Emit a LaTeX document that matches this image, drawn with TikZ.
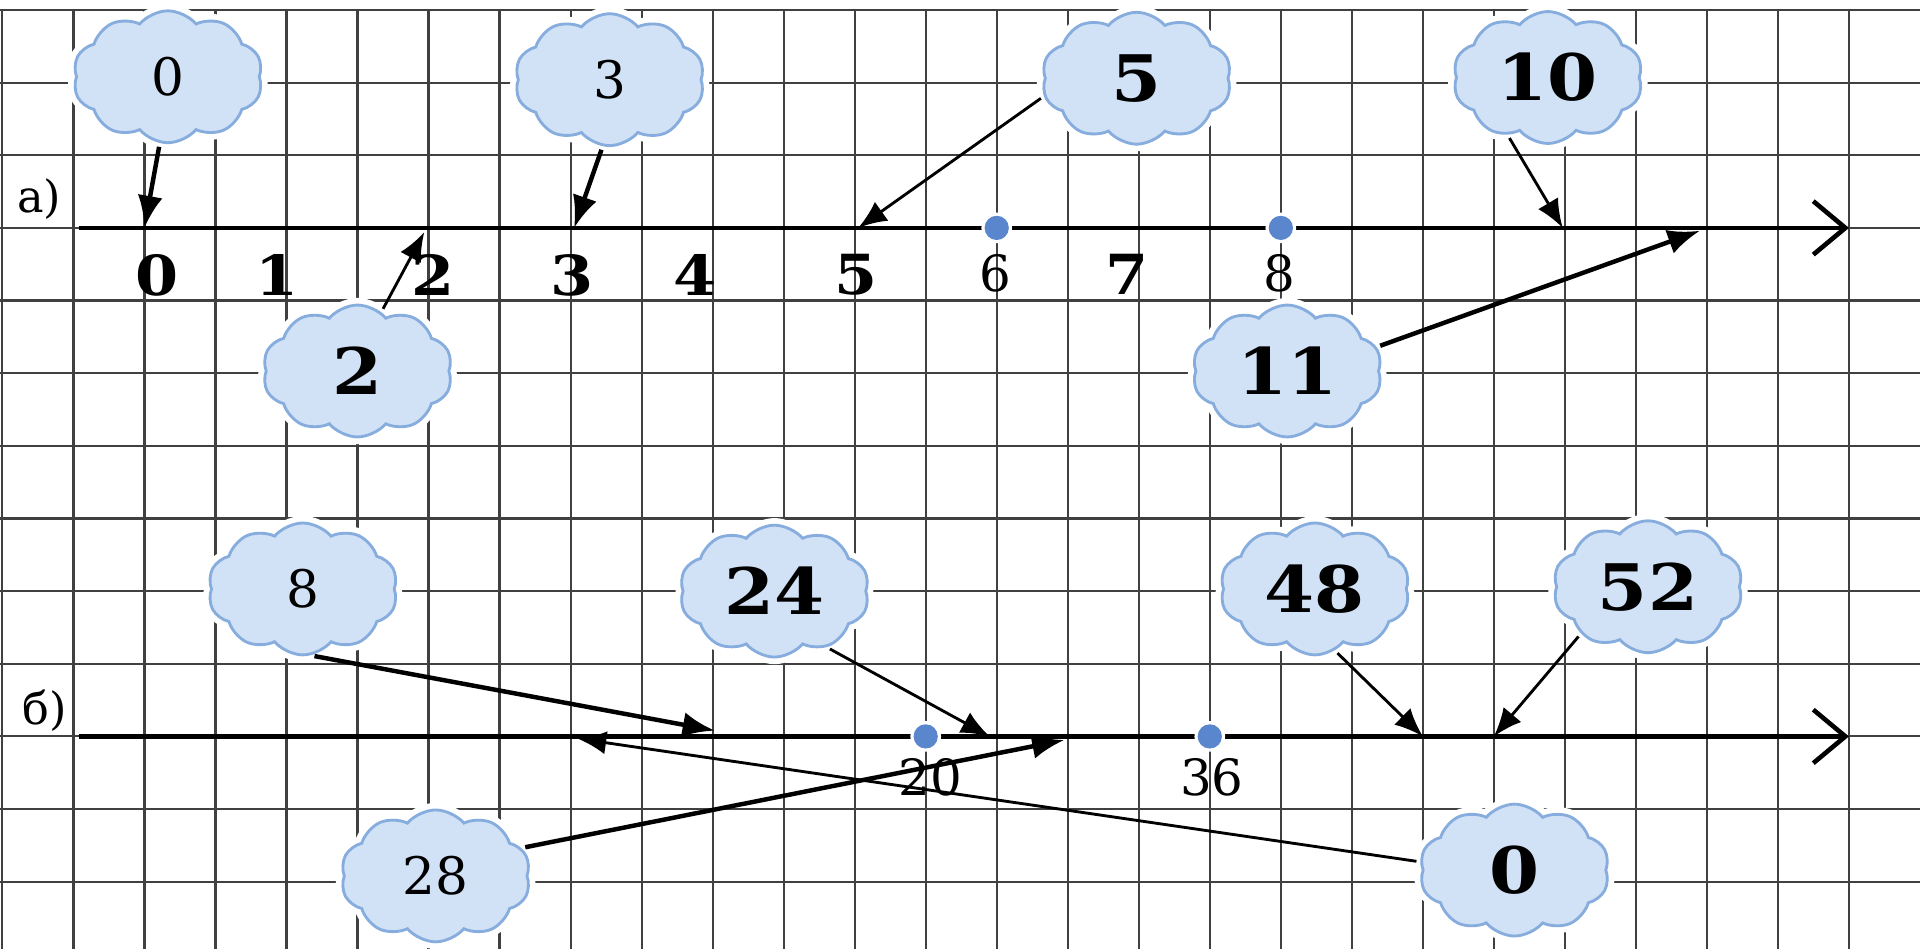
\documentclass[tikz,border=0pt]{standalone}
\usepackage{fontspec}
\setmainfont{DejaVu Serif}
\newfontfamily\heavy{DejaVu Serif}[FakeStretch=1.12]
\usetikzlibrary{arrows.meta, shapes.symbols}

\definecolor{puff}{HTML}{D2E2F6}
\definecolor{puffline}{HTML}{86ADDD}
\definecolor{dotblue}{HTML}{5A86CE}

\begin{document}
\begin{tikzpicture}[x=0.7cm, y=0.716cm,
    gridline/.style={line width=0.6pt, black!75},
    numline/.style={line width=1.3pt, -{Straight Barb[length=9pt,width=15pt]}},
    ans/.style={-{Latex[length=9pt,width=7pt]}, line width=1.25pt, shorten <=1pt},
    thinans/.style={-{Latex[length=8pt,width=6.5pt]}, line width=0.8pt, shorten <=1pt},
    puffy/.style={cloud, cloud puffs=10, cloud puff arc=100, cloud ignores aspect,
      draw=puffline, fill=puff, line width=0.8pt,
      minimum width=1.87cm, minimum height=1.3cm, inner sep=0pt,
      preaction={draw=white, line width=4pt}},
    bignum/.style={font=\heavy\bfseries\fontsize{18}{20}\selectfont},
    smallnum/.style={font=\fontsize{14.5}{16}\selectfont},
    axnum/.style={font=\heavy\bfseries\fontsize{15.5}{17}\selectfont, anchor=north, inner sep=0pt},
    ticknum/.style={font=\fontsize{14}{16}\selectfont, anchor=north, inner sep=0pt},
    partlabel/.style={font=\fontsize{12.5}{14}\selectfont}
  ]
  \useasboundingbox (-2.034,-9.93) rectangle (25,3.137);
  \fill[white] (-2.034,-9.93) rectangle (25,3.137);

  % squared paper
  \foreach \x in {-2,...,24}
    \draw[gridline] (\x,3) -- (\x,-9.93);
  \foreach \y in {-9,...,3}
    \draw[gridline] (-2.034,\y) -- (25,\y);

  % the two number lines
  \coordinate (astart) at (-0.92,0);
  \coordinate (aend)   at (24,0);
  \coordinate (bstart) at (-0.92,-7);
  \coordinate (bend)   at (24,-7);
  \draw[numline] (astart) -- (aend);
  \draw[numline] (bstart) -- (bend);

  \node[partlabel] (parta) at (-1.48,0.4) {а)};
  \node[partlabel] (partb) at (-1.40,-6.64) {б)};

  \foreach \x/\y in {12/0, 16/0, 11/-7, 15/-7} {
    \fill[white] (\x,\y) circle (4.3pt);
    \fill[dotblue] (\x,\y) circle (3.4pt);
  }

  % marks under line a
  \foreach \x/\t in {0.18/0, 1.87/1, 4.06/2, 6.02/3, 7.75/4, 10.02/5, 13.83/7}
    \node[axnum] (t\t) at (\x,-0.35) {\t};
  \node[ticknum] (t6) at (11.98,-0.35) {6};
  \node[ticknum] (t8) at (15.98,-0.35) {8};
  \node[ticknum] (u20) at (11.07,-7.3) {20};
  \node[ticknum] (u36) at (15.03,-7.3) {36};

  % points the clouds point to
  \foreach \v/\x/\y in {0/0/0, 3/6.05/0, 5/10.05/0, 10/19.97/0, 2/3.94/-0.06, 11/21.9/-0.04}
    \coordinate (a\v) at (\x,\y);
  \foreach \v/\x/\y in {8/8.03/-6.92, 24/11.9/-7, 28/12.95/-7.05, 0/6.1/-7.03, 48/18/-7, 52/19/-7}
    \coordinate (b\v) at (\x,\y);

  % clouds
  \node[puffy, smallnum] (c0)  at (0.33,2.08)   {0};
  \node[puffy, smallnum] (c3)  at (6.55,2.04)   {3};
  \node[puffy, bignum]   (c5)  at (13.97,2.06)  {5};
  \node[puffy, bignum]   (c10) at (19.76,2.07)  {10};
  \node[puffy, bignum]   (c2)  at (3.0,-1.97)   {2};
  \node[puffy, bignum]   (c11) at (16.09,-1.97) {11};
  \node[puffy, smallnum] (d8)  at (2.23,-4.97)  {8};
  \node[puffy, bignum]   (d24) at (8.87,-5.0)   {24};
  \node[puffy, bignum]   (d48) at (16.48,-4.97) {48};
  \node[puffy, bignum]   (d52) at (21.17,-4.94) {52};
  \node[puffy, smallnum] (d28) at (4.1,-8.92)   {28};
  \node[puffy, bignum]   (d0)  at (19.29,-8.84) {0};

  \draw[ans]     (c0.263)  -- (a0);
  \draw[ans]     (c3.264)  -- (a3);
  \draw[thinans] (c5.191)  -- (a5);
  \draw[thinans] (c10.235) -- (a10);
  \draw[thinans] (c2.68)   -- (a2);
  \draw[ans]     (c11.15)  -- (a11);
  \draw[ans]     (d8.277)  -- (b8);
  \draw[thinans] (d24.313) -- (b24);
  \draw[thinans] (d48.288) -- (b48);
  \draw[thinans] (d52.215) -- (b52);
  \draw[ans]     (d28.18)  -- (b28);
  \draw[thinans] (d0.175)  -- (b0);
\end{tikzpicture}
\end{document}
